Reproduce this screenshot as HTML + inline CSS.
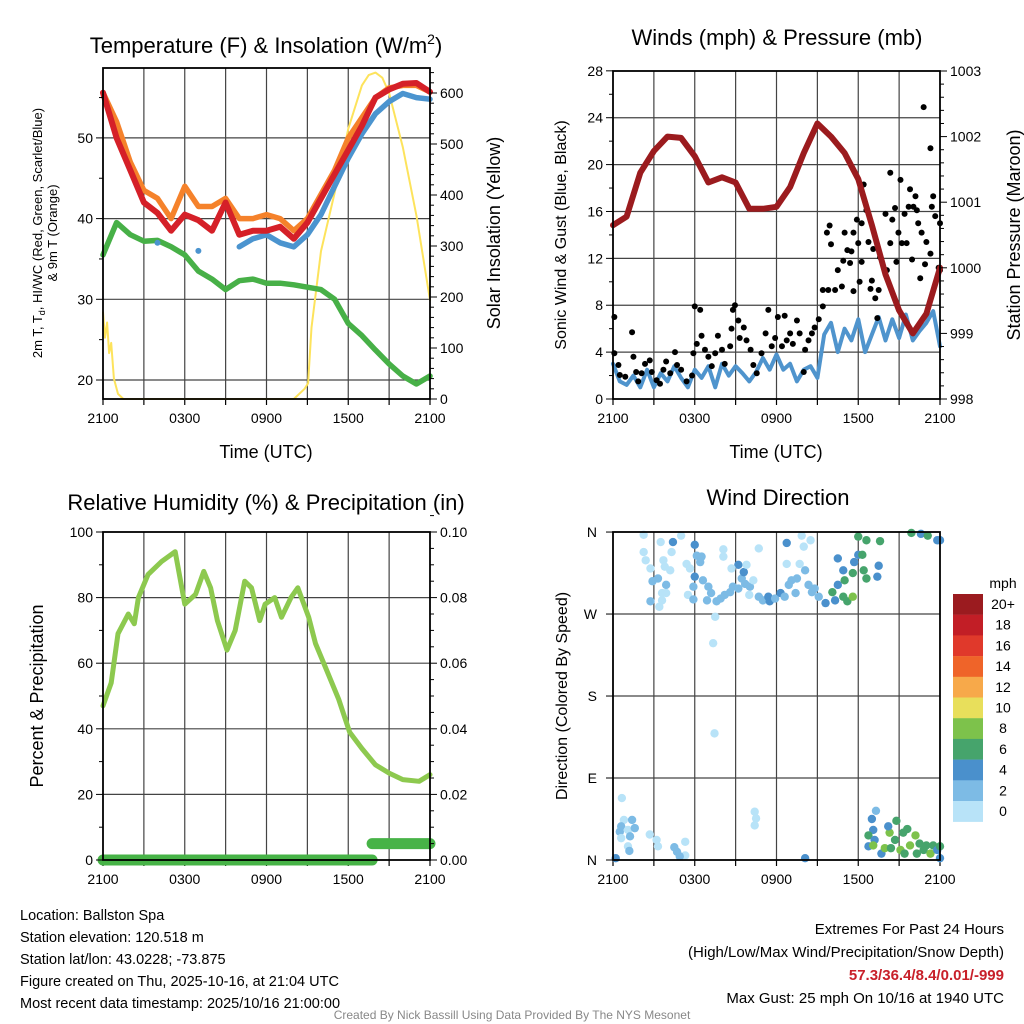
<!DOCTYPE html>
<html><head><meta charset="utf-8">
<style>
html,body{margin:0;padding:0;background:#fff;}
svg{display:block;font-family:"Liberation Sans",Arial,sans-serif;}
</style></head>
<body>
<svg id="root" width="1024" height="1024" viewBox="0 0 1024 1024" xmlns="http://www.w3.org/2000/svg">
<rect x="0" y="0" width="1024" height="1024" fill="#fff"/>
<g id="p1"></g>
<g id="p2"></g>
<g id="p3"></g>
<g id="p4"></g>

<text x="266" y="53" font-size="22" text-anchor="middle">Temperature (F) &amp; Insolation (W/m<tspan font-size="14" dy="-9">2</tspan><tspan dy="9">)</tspan></text>
<text x="777" y="45" font-size="22" text-anchor="middle">Winds (mph) &amp; Pressure (mb)</text>
<text x="266" y="510" font-size="22" text-anchor="middle">Relative Humidity (%) &amp; Precipitation (in)</text>
<text x="778" y="505" font-size="22" text-anchor="middle">Wind Direction</text>

<text x="266" y="458" font-size="18" text-anchor="middle">Time (UTC)</text>
<text x="776" y="458" font-size="18" text-anchor="middle">Time (UTC)</text>

<text transform="translate(42,233) rotate(-90)" font-size="13" text-anchor="middle">2m T, T<tspan font-size="9" dy="3">d</tspan><tspan dy="-3">, HI/WC (Red, Green, Scarlet/Blue)</tspan></text>
<text transform="translate(57,233) rotate(-90)" font-size="13" text-anchor="middle">&amp; 9m T (Orange)</text>
<text transform="translate(500,233) rotate(-90)" font-size="18" text-anchor="middle">Solar Insolation (Yellow)</text>
<text transform="translate(566,235) rotate(-90)" font-size="16" text-anchor="middle">Sonic Wind &amp; Gust (Blue, Black)</text>
<text transform="translate(1020,235) rotate(-90)" font-size="18" text-anchor="middle">Station Pressure (Maroon)</text>
<text transform="translate(43,696) rotate(-90)" font-size="18" text-anchor="middle">Percent &amp; Precipitation</text>
<text transform="translate(567,696) rotate(-90)" font-size="16" text-anchor="middle">Direction (Colored By Speed)</text>

<g font-size="14.5">
<text x="20" y="920">Location: Ballston Spa</text>
<text x="20" y="942">Station elevation: 120.518 m</text>
<text x="20" y="964">Station lat/lon: 43.0228; -73.875</text>
<text x="20" y="986">Figure created on Thu, 2025-10-16, at 21:04 UTC</text>
<text x="20" y="1008">Most recent data timestamp: 2025/10/16 21:00:00</text>
</g>
<g font-size="15" text-anchor="end">
<text x="1004" y="934">Extremes For Past 24 Hours</text>
<text x="1004" y="957">(High/Low/Max Wind/Precipitation/Snow Depth)</text>
<text x="1004" y="980" fill="#c8202a" font-weight="bold">57.3/36.4/8.4/0.01/-999</text>
<text x="1004" y="1003">Max Gust: 25 mph On 10/16 at 1940 UTC</text>
</g>
<text x="512" y="1019" font-size="12" fill="#888" text-anchor="middle">Created By Nick Bassill Using Data Provided By The NYS Mesonet</text>
</svg>
<script>
// ---------- data ----------
const hours = [0,1,2,3,4,5,6,7,8,9,10,11,12,13,14,15,16,17,18,19,20,21,22,23,24];
const tempRed = [55.6,50,46,42,40.7,38.5,40.5,39.8,38.5,42,38,38.5,38.5,39,37.5,39.5,42.5,45.5,48.5,51.5,55,56,56.7,56.8,55.7];
const tempOrange = [55.6,52,47,43.5,42.5,40,44,41.5,41.5,42.5,40,40,40.5,40,38.5,40,43,46,50,52.5,55,56.2,56.5,56.5,55.7];
const tempBlue = [null,null,null,null,37,null,null,36,null,null,36.5,37.5,38,37,36.5,38,40.5,44,47.5,50.5,53,54.5,55.5,55,54.8];
const dewGreen = [35.5,39.5,38,37.2,37.3,36.5,35.5,33.5,32.5,31.2,32.3,32.5,32,32,31.8,31.5,31.2,30,27,25.5,23.7,22,20.5,19.5,20.5];
const solarHours = [0,0.15,0.3,0.45,0.6,0.8,1.1,1.5,12,13,14,14.8,15.05,15.3,16,17,18,19,19.5,20,20.5,21,22,23,24];
const solarVals = [170,120,150,90,110,40,10,0,0,0,0,20,31,140,290,404,530,615,635,640,630,600,494,360,194];
const pressure = [1000.65,1000.78,1001.45,1001.78,1002.0,1001.98,1001.7,1001.3,1001.38,1001.3,1000.9,1000.9,1000.93,1001.23,1001.75,1002.2,1002.0,1001.75,1001.35,1000.65,999.9,999.35,999.0,999.3,1000.0];
const halfHours = [0,0.5,1,1.5,2,2.5,3,3.5,4,4.5,5,5.5,6,6.5,7,7.5,8,8.5,9,9.5,10,10.5,11,11.5,12,12.5,13,13.5,14,14.5,15,15.5,16,16.5,17,17.5,18,18.5,19,19.5,20,20.5,21,21.5,22,22.5,23,23.5,24];
const windSpeed = [3.0,1.5,1.2,2.0,1.0,2.5,1.0,2.2,1.5,2.8,1.8,1.0,2.5,1.8,2.8,1.0,3.0,2.0,2.8,2.2,1.5,2.3,3.5,2.5,3.8,2.5,3.0,1.5,2.5,2.8,1.8,5.5,6.5,4.0,6.0,5.0,6.8,4.0,5.5,7.0,5.0,6.8,5.2,7.2,5.0,5.8,6.5,7.5,4.5];
const gustHours = [0.1,0.1,0.4,0.5,0.9,1.4,1.5,1.7,1.85,2.1,2.35,2.7,2.85,3.2,3.45,3.7,3.9,4.2,4.55,4.7,5.0,5.4,5.8,5.9,6.0,6.4,6.15,6.5,6.75,7.0,7.25,7.5,7.7,8.0,8.2,8.6,8.7,8.8,8.95,9.2,9.3,9.6,9.8,10.1,10.3,10.55,10.9,11.2,11.4,11.65,11.9,12.1,12.4,12.6,12.75,13.0,13.2,13.5,13.7,14.0,14.1,14.35,14.6,14.8,15.1,15.4,15.4,15.8,15.7,16.0,15.9,16.3,16.5,16.8,16.9,17.2,17.0,17.4,17.5,17.65,17.65,17.9,18.0,18.1,18.25,18.4,18.25,18.6,18.75,18.9,19.0,19.1,19.25,19.4,19.5,19.6,20.0,20.1,20.35,20.35,20.5,20.7,20.8,20.95,21.1,21.2,21.4,21.55,21.7,21.8,21.95,22.05,22.2,22.3,22.4,22.55,22.65,22.8,22.9,23.0,23.3,23.3,23.4,23.5,23.65,23.9,24.0,24.0];
const gustVals = [7.0,3.9,2.9,2.05,1.9,5.7,3.6,2.3,1.5,2.2,3.0,3.3,2.3,1.6,1.3,2.5,3.2,2.2,4.0,2.9,2.5,1.5,2.0,3.9,7.9,7.6,4.7,5.4,4.2,3.6,2.8,3.9,5.4,4.2,3.0,4.5,6.0,7.6,8.0,6.7,5.2,6.1,5.0,4.2,2.9,2.2,3.9,5.6,7.6,4.5,5.2,7.0,4.5,7.1,5.0,5.6,4.7,6.7,5.6,2.3,4.2,5.0,5.6,6.1,6.8,7.9,9.3,9.3,14.2,13.2,14.8,9.3,11.0,9.6,11.8,12.7,14.2,11.6,12.6,14.2,9.2,15.3,13.3,10.0,15.0,18.3,11.7,16.1,13.4,9.4,10.1,12.8,8.6,6.9,9.3,12.1,15.8,11.0,19.3,13.3,15.3,16.3,11.7,14.2,18.7,13.3,15.8,13.3,16.4,17.9,11.9,16.4,17.3,16.1,15.0,10.3,14.2,24.9,11.5,13.4,21.4,12.4,16.4,17.3,15.6,11.2,11.0,15.0];
const rhHours = [0,0.6,1.1,1.86,2.3,2.6,3.3,4.3,5.3,6,6.8,7.4,7.9,8.4,9.1,9.7,10.4,10.9,11.5,11.9,12.6,13.1,13.8,14.3,15.1,15.6,16.3,17.3,18.1,19,20,21,22,23.2,24];
const rhVals = [47,54,69,75,72,80,87,91,94,78,81,88,83,73,64,70,85,83,73,78,80,74,80,83,74,66,59,49,39,34,29,26.5,24.5,24,26];
const precipHours = [0,19.75,19.75,24];
const precipVals = [0,0,0.005,0.005];
const dirHours = [2.25,2.25,2.4,2.75,2.9,3.3,2.75,3.4,3.5,3.7,3.8,4.2,3.9,3.9,3.6,3.6,4.4,5.0,4.3,5.4,5.65,5.5,5.9,6.0,6.15,6.5,6.4,6.0,5.9,6.6,7.0,6.9,7.2,7.6,7.9,8.2,8.6,8.8,9.2,9.45,9.7,10.05,9.6,9.2,8.1,8.1,8.7,9.8,10.3,10.0,10.7,10.7,11.0,11.4,11.5,11.9,12.3,12.6,12.75,12.75,12.9,13.1,13.5,13.4,13.7,13.85,14.0,14.5,14.1,14.35,14.6,14.8,15.1,15.6,16.1,16.3,16.5,17.0,17.2,16.9,17.6,16.5,16.9,17.7,18.0,18.3,17.6,18.0,18.6,19.6,18.4,18.6,19.5,19.4,21.9,22.6,23.1,23.8,24,7.5,7.35,7.45,
0.65,0.8,0.5,0.6,1.1,1.4,1.6,1.25,0.6,1.1,1.2,0.2,2.7,3.2,3.3,4.5,4.7,5.3,5.3,4.9,10.4,10.5,10.4,14.1,
19.3,19.0,19.1,18.75,19.2,18.75,19.1,19.7,19.95,20.3,20.2,20.8,20.7,21.1,21.3,21.6,21.8,22.2,22.5,22.8,23.0,23.3,23.5,23.8,24,24,22.3,21.4,20.4];
const dirVals = [357,338,329,320,306,309,284,278,349,329,322,318,302,293,293,285,349,356,338,325,320,291,286,346,334,333,327,311,300,307,300,285,293,284,287,291,294,300,298,309,303,300,316,324,341,333,320,324,307,291,342,289,285,289,284,287,293,289,325,348,302,307,309,293,325,356,344,351,318,302,294,298,289,282,294,285,302,307,284,289,289,331,318,327,335,335,315,355,351,350,318,309,323,311,359,358,356,351,351,267,238,139,
68,44,31,37,33,44,35,26,24,15,10,2,28,22,15,14,9,20,5,4,53,45.7,38,2,
54,45,33,27,22,15,16,7,13,30,37,43,22,11,30,34,16,27,18,11,16,7,16,11,15,2,7,7,13];
const dirSpeed = [0,0,0,0,2,2,2,0,0,0,0,0,2,0,0,0,4,0,0,0,0,0,2,4,2,2,2,4,2,2,2,2,2,2,2,2,2,2,2,2,2,2,4,4,0,0,0,0,0,0,0,2,2,4,4,2,4,2,0,4,2,2,2,2,0,0,0,0,2,2,2,2,2,4,6,4,4,6,6,6,8,4,4,4,4,6,6,6,6,6,6,6,4,4,6,4,6,4,4,0,0,0,
0,0,2,2,0,2,2,2,0,0,2,4,0,0,0,2,2,0,0,2,0,0,0,4,
2,4,4,6,4,4,8,4,8,8,4,6,6,8,6,6,8,8,6,6,6,8,6,4,6,4,6,6,6];
const cbLabels = ["20+","18","16","14","12","10","8","6","4","2","0"];
const cbColors = ["#9b1b1f","#c21e26","#e0392b","#ef6429","#f7a94a","#e8df5b","#7dc24b","#46a46c","#4a90cc","#7dbbe5","#b8e3f8"];
const timeLabels = ["2100","0300","0900","1500","2100"];

// ---------- helpers ----------
const NS = "http://www.w3.org/2000/svg";
function mk(parent, tag, attrs){const e=document.createElementNS(NS,tag);for(const k in attrs)e.setAttribute(k,attrs[k]);parent.appendChild(e);return e;}
function txt(parent, x, y, s, size, anchor){const e=mk(parent,"text",{x:x,y:y,"font-size":size,"text-anchor":anchor,"dominant-baseline":"central"});e.textContent=s;return e;}

function panel(g, x0, y0, x1, y1, hGrid){
  for(let h=3;h<24;h+=3){const X=x0+(x1-x0)*h/24;const l=mk(g,"line",{x1:X,y1:y0,x2:X,y2:y1,stroke:"#444","stroke-width":1.2});
    
    }
  hGrid.forEach(Y=>{const l=mk(g,"line",{x1:x0,y1:Y,x2:x1,y2:Y,stroke:"#444","stroke-width":1.2});
    
    });
  for(let h=0;h<=24;h+=3){const X=x0+(x1-x0)*h/24;const t=mk(g,"line",{x1:X,y1:y1,x2:X,y2:y1+6,stroke:"#000","stroke-width":1.2});
    
    }
  timeLabels.forEach((s,i)=>{const e=txt(g,x0+(x1-x0)*i/4,y1+19,s,14,"middle");
    
    });
}
function frame(g,x0,y0,x1,y1){const r=mk(g,"rect",{x:x0,y:y0,width:x1-x0,height:y1-y0,fill:"none",stroke:"#000","stroke-width":1.8});
  
  }
function ticks(g,X,side,vals,fy,labelFn,major){
  vals.forEach(v=>{const Y=fy(v);const isMaj=major(v);const len=isMaj?7:4;
    const t=mk(g,"line",{x1:X,y1:Y,x2:X+side*len,y2:Y,stroke:"#000","stroke-width":1});
    
    
    if(isMaj){const e=txt(g,X+side*10,Y,labelFn(v),14,side<0?"end":"start");
      
      }
  });
}
function line(g,xs,ys,fx,fy,color,w,name,cap){
  let d="";let pen=false;
  for(let i=0;i<xs.length;i++){if(ys[i]===null||ys[i]===undefined){pen=false;continue;}
    d+=(pen?"L":"M")+fx(xs[i]).toFixed(1)+","+fy(ys[i]).toFixed(1);pen=true;}
  const p=mk(g,"path",{d:d,fill:"none",stroke:color,"stroke-width":w,"stroke-linejoin":"round","stroke-linecap":cap||"round"});
  
  
  return p;
}
function rng(a,b,s){const r=[];for(let v=a;v<=b+1e-9;v+=s)r.push(Math.round(v*1000)/1000);return r;}

// ---------- Panel 1 ----------
(function(){
  const g=document.getElementById("p1");
  const x0=103,x1=430,y0=68,y1=399;
  const fx=h=>x0+(x1-x0)*h/24, fy=v=>380-(v-20)*8.07, fs=v=>399-v*0.51;
  panel(g,x0,y0,x1,y1,[20,30,40,50].map(fy));
  line(g,solarHours,solarVals,fx,fs,"#fde35c",2,"solar-insolation-line");
  line(g,hours,dewGreen,fx,fy,"#47b047",5.5,"dewpoint-line");
  line(g,hours,tempOrange,fx,fy,"#f5822b",5.5,"temp-9m-line");
  line(g,hours,tempBlue,fx,fy,"#4b94cf",5.5,"wind-chill-line");
  hours.forEach((h,i)=>{const prevNull=i===0||tempBlue[i-1]===null;const nextNull=i===hours.length-1||tempBlue[i+1]===null;
    if(tempBlue[i]!==null&&prevNull&&nextNull){const c=mk(g,"circle",{cx:fx(h),cy:fy(tempBlue[i]),r:3,fill:"#4b94cf"});
      
      }});
  line(g,hours,tempRed,fx,fy,"#d52028",6,"temp-2m-line");
  frame(g,x0,y0,x1,y1);
  ticks(g,x0,-1,rng(20,55,5),fy,v=>String(v),v=>v%10===0);
  ticks(g,x1,1,rng(0,640,20),fs,v=>String(v),v=>v%100===0);
})();

// ---------- Panel 2 ----------
(function(){
  const g=document.getElementById("p2");
  const x0=613,x1=940,y0=71,y1=399;
  const fx=h=>x0+(x1-x0)*h/24, fw=v=>399-v*11.72, fp=v=>399-(v-998)*65.6;
  panel(g,x0,y0,x1,y1,rng(4,24,4).map(fw));
  line(g,halfHours,windSpeed,fx,fw,"#4f94cd",4,"sonic-wind-line");
  gustHours.forEach((h,i)=>{const c=mk(g,"circle",{cx:fx(h),cy:fw(gustVals[i]),r:3,fill:"#000"});
    
    });
  line(g,hours,pressure,fx,fp,"#9b1b1e",6,"pressure-line");
  frame(g,x0,y0,x1,y1);
  ticks(g,x0,-1,rng(0,28,2),fw,v=>String(v),v=>v%4===0);
  ticks(g,x1,1,rng(998,1003,0.2),fp,v=>String(Math.round(v)),v=>Math.abs(v-Math.round(v))<1e-6);
})();

// ---------- Panel 3 ----------
(function(){
  const g=document.getElementById("p3");
  const x0=103,x1=430,y0=532,y1=860;
  const fx=h=>x0+(x1-x0)*h/24, fr=v=>860-v*3.28, fpr=v=>860-v*3280;
  panel(g,x0,y0,x1,y1,[20,40,60,80].map(fr));
  line(g,rhHours,rhVals,fx,fr,"#8dc94f",5,"relative-humidity-line");
  line(g,precipHours.slice(0,2),precipVals.slice(0,2),fx,fpr,"#47b347",11,"precip-line-a");
  line(g,precipHours.slice(2),precipVals.slice(2),fx,fpr,"#47b347",11,"precip-line-b");
  frame(g,x0,y0,x1,y1);
  ticks(g,x0,-1,rng(0,100,10),fr,v=>String(v),v=>v%20===0);
  ticks(g,x1,1,rng(0,0.105,0.005),fpr,v=>v.toFixed(2),v=>Math.abs(v*50-Math.round(v*50))<1e-6);
})();

// ---------- Panel 4 ----------
(function(){
  const g=document.getElementById("p4");
  const x0=613,x1=940,y0=532,y1=860;
  const fx=h=>x0+(x1-x0)*h/24, fd=d=>860-d*0.911;
  panel(g,x0,y0,x1,y1,[90,180,270].map(fd));
  const colorFor=s=>cbColors[10-Math.min(10,Math.round(s/2))];
  dirHours.forEach((h,i)=>{const c=mk(g,"circle",{cx:fx(h),cy:fd(dirVals[i]),r:4.2,fill:colorFor(dirSpeed[i])});
    
    });
  frame(g,x0,y0,x1,y1);
  ["N","E","S","W","N"].forEach((s,i)=>{const Y=fd(i*90);
    const t=mk(g,"line",{x1:x0,y1:Y,x2:x0-7,y2:Y,stroke:"#000","stroke-width":1});
    
    
    const e=txt(g,x0-16,Y,s,14,"end");
    
    });
  const cb=mk(g,"g",{});
  
  
  const m=txt(cb,1003,583,"mph",14,"middle");
  
  
  cbLabels.forEach((s,i)=>{const Y=594+i*20.7;
    const r=mk(cb,"rect",{x:953,y:Y,width:30,height:20.9,fill:cbColors[i]});
    
    
    const e=txt(cb,1003,Y+10,s,14,"middle");
    
    });
})();
</script>
</body></html>
